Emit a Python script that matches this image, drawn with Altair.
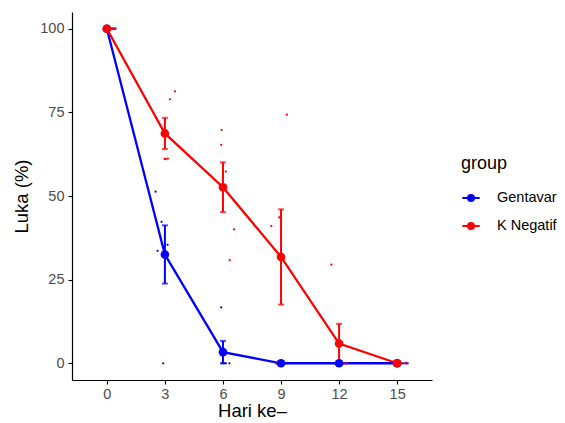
import altair as alt
import pandas as pd

days = [0, 3, 6, 9, 12, 15]
groups = ["Gentavar", "K Negatif"]

# replicate values (Luka %) per day, read from the jittered points
gentavar_vals = {
    0: [100, 100, 100, 100, 100],
    3: [51.3, 42.3, 35.4, 33.6, 0],
    6: [16.7, 0, 0, 0, 0],
    9: [0, 0, 0, 0, 0],
    12: [0, 0, 0, 0, 0],
    15: [0, 0, 0, 0, 0],
}
knegatif_vals = {
    0: [100, 100, 100, 100, 100],
    3: [81.3, 78.9, 61.1, 61.2, 61.0],
    6: [69.7, 65.3, 57.3, 40.0, 30.8],
    9: [74.3, 43.6, 41.0, 0, 0],
    12: [29.5, 0, 0, 0, 0],
    15: [0, 0, 0, 0, 0],
}
# jittered horizontal positions of the raw points
gentavar_jit = {
    0: [0.25, 0.38, 0.45, 0.12, 0.3],
    3: [2.52, 2.83, 3.14, 2.62, 2.91],
    6: [5.91, 6.33, 6.05, 5.95, 6.15],
    9: [8.75, 9.1, 9.35, 8.9, 9.2],
    12: [11.8, 12.2, 12.35, 11.7, 12.0],
    15: [15.5, 15.2, 14.8, 15.3, 15.45],
}
knegatif_jit = {
    0: [0.28, 0.42, 0.2, 0.35, 0.1],
    3: [3.52, 3.26, 2.98, 3.15, 3.05],
    6: [5.93, 5.91, 6.15, 6.57, 6.35],
    9: [9.3, 8.9, 8.5, 8.74, 9.15],
    12: [11.6, 12.1, 12.4, 11.9, 12.25],
    15: [15.55, 15.1, 14.9, 15.35, 15.4],
}

rows = []
for g, vals, jit in [("Gentavar", gentavar_vals, gentavar_jit),
                     ("K Negatif", knegatif_vals, knegatif_jit)]:
    for d in days:
        for v, xj in zip(vals[d], jit[d]):
            rows.append({"day": d, "group": g, "luka": v, "xj": xj})
df = pd.DataFrame(rows)

FONT = "Liberation Sans"
XT = "Hari ke–"
YT = "Luka (%)"
xscale = alt.Scale(domain=[-1.8, 16.8], nice=False, zero=False)
yscale = alt.Scale(domain=[-5, 105], nice=False, zero=False)
cscale = alt.Scale(domain=groups, range=["#0000FF", "#FF0000"])

# line-with-dot legend key (dot drawn with concentric strokes)
KEY = ("M-1,0H1"
       "M-0.33,0A0.33,0.33,0,1,1,0.33,0A0.33,0.33,0,1,1,-0.33,0"
       "M-0.18,0A0.18,0.18,0,1,1,0.18,0A0.18,0.18,0,1,1,-0.18,0")

legend = alt.Legend(
    title="group", orient="none", legendX=389, legendY=143,
    symbolType=KEY,
    symbolSize=300, symbolStrokeWidth=2.2, symbolOpacity=1,
    labelFontSize=14.5, labelColor="black", labelFont=FONT,
    titleFontSize=18, titleFont=FONT, titleColor="black", titleFontWeight="normal",
    rowPadding=10, titlePadding=15, labelOffset=16,
)

xaxis = alt.Axis(values=days, grid=False, domainColor="black",
                 tickColor="black", labelColor="#4D4D4D", labelFontSize=14.5,
                 titleFontSize=18.5, titleFontWeight="normal", titleColor="black",
                 labelFont=FONT, titleFont=FONT, tickSize=4, labelPadding=3,
                 titlePadding=1, domainWidth=1.2, tickWidth=1.1)
yaxis = alt.Axis(values=[0, 25, 50, 75, 100], grid=False,
                 domainColor="black", tickColor="black", labelColor="#4D4D4D",
                 labelFontSize=14.5, titleFontSize=18.5, titleFontWeight="normal",
                 titleColor="black", labelFont=FONT, titleFont=FONT, tickSize=4,
                 labelPadding=4, titlePadding=8, domainWidth=1.2, tickWidth=1.1)

base = alt.Chart(df)

line = base.mark_line(strokeWidth=2.3).encode(
    x=alt.X("day:Q", scale=xscale, axis=xaxis, title=XT),
    y=alt.Y("mean(luka):Q", scale=yscale, axis=yaxis, title=YT),
    color=alt.Color("group:N", scale=cscale, legend=legend),
)

jitter = base.mark_circle(size=5, opacity=1).encode(
    x=alt.X("xj:Q", scale=xscale, title=XT),
    y=alt.Y("luka:Q", scale=yscale, title=YT),
    color=alt.Color("group:N", scale=cscale, legend=legend),
)

err = base.mark_errorbar(extent="stderr", ticks=True, size=6, thickness=2,
                         orient="vertical").encode(
    x=alt.X("day:Q", scale=xscale, title=XT),
    y=alt.Y("luka:Q", scale=yscale, title=YT),
    color=alt.Color("group:N", scale=cscale, legend=legend),
)

pts = base.mark_point(filled=True, size=75, opacity=1).encode(
    x=alt.X("day:Q", scale=xscale, title=XT),
    y=alt.Y("mean(luka):Q", scale=yscale, title=YT),
    color=alt.Color("group:N", scale=cscale, legend=legend),
)

chart = alt.layer(line, jitter, err, pts).properties(
    width=360, height=368,
    background="white",
    autosize=alt.AutoSizeParams(type="none"),
    padding={"left": 64, "top": 4, "right": 125, "bottom": 42},
).configure_view(strokeWidth=0, stroke=None)

chart.save("out.html", embed_options={"renderer": "svg", "actions": False})
